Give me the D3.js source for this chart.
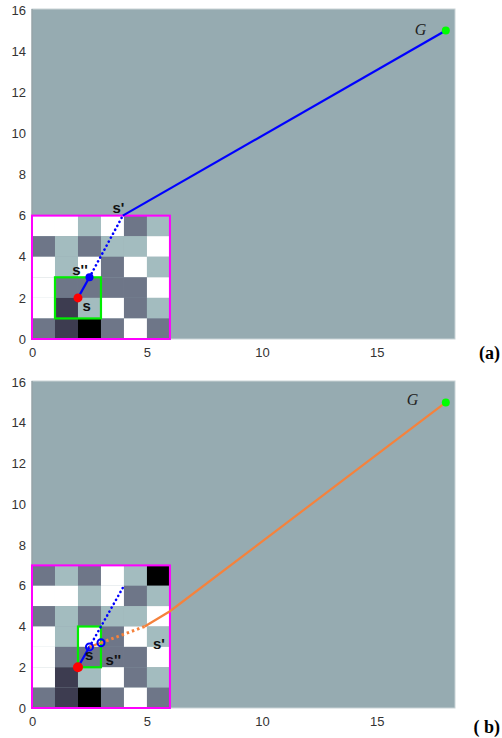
<!DOCTYPE html>
<html>
<head>
<meta charset="utf-8">
<script src="https://cdn.jsdelivr.net/npm/d3@7"></script>
<style>
  body { margin: 0; background: #fff; }
  svg { display: block; }
</style>
</head>
<body>
<div id="chart"></div>
<script>
// occupancy cells, rows listed from top to bottom (W white, L light, G grey, D dark, K black)
const cellsA = [
    "WWLWGL",
    "GLGLLW",
    "WLWGWL",
    "WGGGGW",
    "WDLWGL",
    "GDKGWG"
];
const cellsB = [
    "GLGWLK",
    "WWLWGL",
    "GLGLLW",
    "WLWGWL",
    "WGGGGW",
    "WDLWGL",
    "GDKGWG"
];
const cellColors = {W: "#ffffff", L: "#a3bcbf", G: "#6e7688", D: "#3d3c50", K: "#000000"};

const xTickValues = [0, 5, 10, 15];
const yTickValues = [0, 2, 4, 6, 8, 10, 12, 14, 16];

// panel (a) paths
const pathA1 = [[2, 2], [2.5, 3]];
const pathA2 = [[2.5, 3], [3.95, 6]];
const pathA3 = [[3.95, 6], [18, 15]];
// panel (b) paths
const pathB1 = [[2, 2], [2.5, 3]];
const pathB2 = [[2.5, 3], [4, 6]];
const pathB3 = [[2.5, 3], [3, 3.2]];
const pathB4 = [[3, 3.2], [4.9, 4]];
const pathB5 = [[4.9, 4], [6, 4.75], [18, 15]];

const goal = [18, 15];

const width = 502, height = 738;
const svg = d3.select("#chart").append("svg")
    .attr("width", width)
    .attr("height", height);

function drawPanel(cfg) {
    const x = d3.scaleLinear().domain([0, 18.4]).range([32, 455]);
    const y = d3.scaleLinear().domain([0, 16]).range(cfg.yRange);
    const g = svg.append("g");

    // plot background
    g.append("rect")
        .attr("x", x(0)).attr("y", y(16) - 1)
        .attr("width", x(18.4) - x(0))
        .attr("height", y(0) - y(16) + 1)
        .style("fill", "#96abb1")
        .style("stroke", "#c9d3d6")
        .style("stroke-width", 1);
    g.append("line")
        .attr("x1", x(0)).attr("x2", x(0))
        .attr("y1", y(16) - 1).attr("y2", y(0))
        .style("stroke", "#7d8c92");

    // cells
    const rows = cfg.cells.length;
    cfg.cells.forEach((row, i) => {
        row.split("").forEach((c, j) => {
            const yv = rows - i;
            g.append("rect")
                .attr("x", x(j)).attr("y", y(yv))
                .attr("width", x(j + 1) - x(j))
                .attr("height", y(yv - 1) - y(yv))
                .style("fill", cellColors[c]);
        });
    });

    // border of local map
    g.append("rect")
        .attr("x", x(0)).attr("y", y(rows))
        .attr("width", x(6) - x(0))
        .attr("height", y(0) - y(rows))
        .style("fill", "none")
        .style("stroke", "#ff00ff")
        .style("stroke-width", 2);

    // green window
    g.append("rect")
        .attr("x", x(cfg.box[0])).attr("y", y(cfg.box[3]))
        .attr("width", x(cfg.box[2]) - x(cfg.box[0]))
        .attr("height", y(cfg.box[1]) - y(cfg.box[3]))
        .style("fill", "none")
        .style("stroke", "#00ee00")
        .style("stroke-width", 2.2);

    const line = d3.line().x(d => x(d[0])).y(d => y(d[1]));
    cfg.paths.forEach(p => {
        const path = g.append("path")
            .attr("d", line(p.data))
            .style("fill", "none")
            .style("stroke", p.color);
        if (p.dash === "dot") {
            path.style("stroke-width", 2.6)
                .style("stroke-dasharray", "0.1,4.4")
                .style("stroke-linecap", "round");
        } else if (p.dash === "dash") {
            path.style("stroke-width", 3)
                .style("stroke-dasharray", "2.5,3");
        } else {
            path.style("stroke-width", 2.2);
        }
    });

    cfg.points.forEach(p => {
        g.append("circle")
            .attr("cx", x(p.at[0])).attr("cy", y(p.at[1]))
            .attr("r", p.r)
            .style("fill", p.fill)
            .style("stroke", p.stroke || "none")
            .style("stroke-width", 2);
    });

    // axes tick labels
    const xAxis = g.append("g")
        .attr("transform", "translate(0," + (y(0) + 2) + ")")
        .call(d3.axisBottom(x).tickValues(xTickValues).tickSize(0).tickPadding(7));
    xAxis.select(".domain").remove();
    xAxis.selectAll("text")
        .style("font-family", "'Liberation Sans', Arial, sans-serif")
        .style("font-size", "13px")
        .style("fill", "#333");

    const yAxis = g.append("g")
        .attr("transform", "translate(" + (x(0) - 5) + ",0)")
        .call(d3.axisLeft(y).tickValues(yTickValues).tickSize(0).tickPadding(1));
    yAxis.select(".domain").remove();
    yAxis.selectAll("text")
        .style("font-family", "'Liberation Sans', Arial, sans-serif")
        .style("font-size", "13px")
        .style("fill", "#333");

    // annotations
    cfg.labels.forEach(l => {
        g.append("text")
            .attr("x", x(l.at[0])).attr("y", y(l.at[1]))
            .text(l.text)
            .style("font-family", "'Liberation Sans', Arial, sans-serif")
            .style("font-weight", "bold")
            .style("font-size", "15px")
            .style("fill", "#111");
    });

    g.append("text")
        .attr("x", x(cfg.gLabel[0])).attr("y", y(cfg.gLabel[1]))
        .text("G")
        .style("font-family", "'Liberation Serif', 'Times New Roman', serif")
        .style("font-style", "italic")
        .style("font-size", "16px")
        .style("fill", "#222");

    g.append("text")
        .attr("x", 500).attr("y", cfg.tagY)
        .attr("text-anchor", "end")
        .text(cfg.tag)
        .style("font-family", "'Liberation Serif', 'Times New Roman', serif")
        .style("font-weight", "bold")
        .style("font-size", "18px")
        .style("fill", "#000");
}

drawPanel({
    yRange: [339, 10],
    cells: cellsA,
    box: [1, 1, 3, 3],
    paths: [
        {data: pathA1, color: "#0000ff"},
        {data: pathA2, color: "#0000ff", dash: "dot"},
        {data: pathA3, color: "#0000ff"}
    ],
    points: [
        {at: [2, 2], r: 4.5, fill: "#ff0000"},
        {at: [2.5, 3], r: 4, fill: "#0000ff"},
        {at: goal, r: 4, fill: "#00ff00"}
    ],
    labels: [
        {text: "s'", at: [3.5, 6.13]},
        {text: "s''", at: [1.75, 3.12]},
        {text: "s", at: [2.2, 1.38]}
    ],
    gLabel: [16.65, 14.8],
    tag: "(a)",
    tagY: 359
});

drawPanel({
    yRange: [708, 382],
    cells: cellsB,
    box: [2, 2, 3, 4],
    paths: [
        {data: pathB1, color: "#0000ff"},
        {data: pathB2, color: "#0000ff", dash: "dot"},
        {data: pathB3, color: "#f5823c"},
        {data: pathB4, color: "#f5823c", dash: "dash"},
        {data: pathB5, color: "#f5823c"}
    ],
    points: [
        {at: [2, 2], r: 5, fill: "#ff0000"},
        {at: [2.5, 3], r: 3.5, fill: "none", stroke: "#0000ff"},
        {at: [3, 3.2], r: 3.5, fill: "none", stroke: "#0000ff"},
        {at: goal, r: 4, fill: "#00ff00"}
    ],
    labels: [
        {text: "s", at: [2.3, 2.35]},
        {text: "s''", at: [3.2, 2.1]},
        {text: "s'", at: [5.26, 2.9]}
    ],
    gLabel: [16.3, 14.85],
    tag: "( b)",
    tagY: 733
});
</script>
</body>
</html>
